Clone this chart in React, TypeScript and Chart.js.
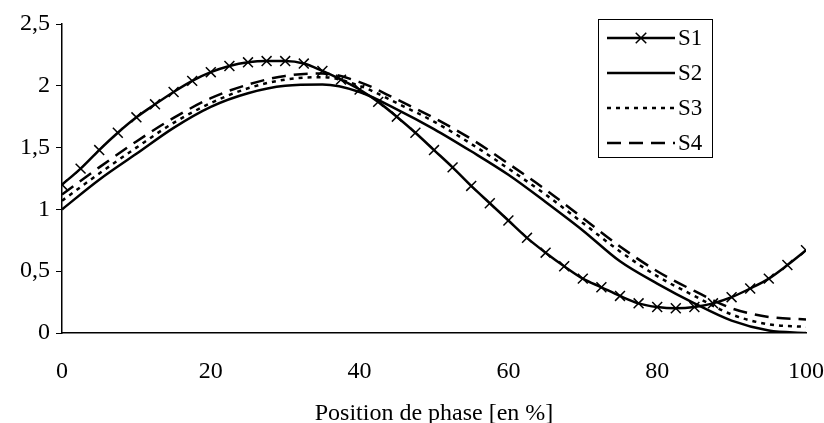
import React, { useEffect, useRef } from "react";
import { Chart, registerables } from "chart.js";

Chart.register(...registerables);

const xS1 = [0, 2.5, 5, 7.5, 10, 12.5, 15, 17.5, 20, 22.5, 25, 27.5, 30, 32.5, 35, 37.5, 40, 42.5, 45, 47.5, 50, 52.5, 55, 57.5, 60, 62.5, 65, 67.5, 70, 72.5, 75, 77.5, 80, 82.5, 85, 87.5, 90, 92.5, 95, 97.5, 100];
const s1 = [1.20, 1.33, 1.48, 1.62, 1.745, 1.85, 1.95, 2.04, 2.11, 2.16, 2.19, 2.20, 2.20, 2.18, 2.12, 2.05, 1.97, 1.87, 1.75, 1.62, 1.48, 1.34, 1.19, 1.05, 0.91, 0.77, 0.65, 0.54, 0.44, 0.37, 0.30, 0.24, 0.21, 0.20, 0.21, 0.24, 0.29, 0.36, 0.44, 0.55, 0.67];

const xS = [0, 5, 10, 15, 20, 25, 30, 35, 40, 45, 50, 55, 60, 65, 70, 75, 80, 85, 90, 95, 100];
const s2 = [1.00, 1.24, 1.45, 1.66, 1.83, 1.94, 2.00, 2.01, 1.95, 1.81, 1.65, 1.47, 1.28, 1.06, 0.83, 0.58, 0.40, 0.24, 0.10, 0.02, 0.00];
const s3 = [1.07, 1.29, 1.50, 1.70, 1.86, 1.98, 2.05, 2.07, 2.00, 1.86, 1.71, 1.53, 1.33, 1.12, 0.89, 0.66, 0.46, 0.30, 0.15, 0.07, 0.05];
const s4 = [1.12, 1.34, 1.55, 1.74, 1.90, 2.01, 2.08, 2.10, 2.03, 1.89, 1.74, 1.57, 1.37, 1.16, 0.93, 0.70, 0.50, 0.34, 0.20, 0.13, 0.11];

const seriesNames = ["S1", "S2", "S3", "S4"];
const yTickLabels = ["0", "0,5", "1", "1,5", "2", "2,5"];
const xTitle = "Position de phase [en %]";

const FONT = "'Liberation Serif', 'Times New Roman', serif";

const boxLegend = {
  id: "boxLegend",
  afterDraw(chart: any) {
    const ctx = chart.ctx;
    const bx = 598, by = 19, bw = 114, bh = 138;
    ctx.save();
    ctx.strokeStyle = "#000";
    ctx.lineWidth = 1;
    ctx.setLineDash([]);
    ctx.strokeRect(bx + 0.5, by + 0.5, bw, bh);
    chart.data.datasets.forEach((ds: any, i: number) => {
      const y = by + 19 + i * 35;
      ctx.beginPath();
      ctx.setLineDash(ds.borderDash || []);
      ctx.lineWidth = ds.borderWidth;
      ctx.strokeStyle = "#000";
      ctx.moveTo(bx + 9, y);
      ctx.lineTo(bx + 77, y);
      ctx.stroke();
      ctx.setLineDash([]);
      if (ds.pointRadius > 0) {
        const cx = bx + 43;
        const r = ds.pointRadius * 0.75;
        ctx.lineWidth = ds.pointBorderWidth;
        ctx.beginPath();
        ctx.moveTo(cx - r, y - r);
        ctx.lineTo(cx + r, y + r);
        ctx.moveTo(cx + r, y - r);
        ctx.lineTo(cx - r, y + r);
        ctx.stroke();
      }
      ctx.fillStyle = "#000";
      ctx.font = `23px ${FONT}`;
      ctx.textBaseline = "middle";
      ctx.textAlign = "left";
      ctx.fillText(ds.label, bx + 80, y + 1);
    });
    ctx.restore();
  },
};

export default function App() {
  const ref = useRef<HTMLCanvasElement | null>(null);
  useEffect(() => {
    if (!ref.current) return;
    Chart.defaults.color = "#000";
    const chart = new Chart(ref.current, {
      type: "line",
      data: {
        datasets: [
          {
            label: seriesNames[0],
            data: xS1.map((x, i) => ({ x, y: s1[i] })),
            borderColor: "#000",
            borderWidth: 2.5,
            pointStyle: "crossRot",
            pointRadius: 7,
            pointBorderWidth: 1.5,
            pointBorderColor: "#000",
            cubicInterpolationMode: "monotone",
          },
          {
            label: seriesNames[1],
            data: xS.map((x, i) => ({ x, y: s2[i] })),
            borderColor: "#000",
            borderWidth: 2.5,
            pointRadius: 0,
            cubicInterpolationMode: "monotone",
          },
          {
            label: seriesNames[2],
            data: xS.map((x, i) => ({ x, y: s3[i] })),
            borderColor: "#000",
            borderWidth: 2.5,
            borderDash: [4, 5],
            pointRadius: 0,
            cubicInterpolationMode: "monotone",
          },
          {
            label: seriesNames[3],
            data: xS.map((x, i) => ({ x, y: s4[i] })),
            borderColor: "#000",
            borderWidth: 2.5,
            borderDash: [14, 8],
            pointRadius: 0,
            cubicInterpolationMode: "monotone",
          },
        ] as any,
      },
      options: {
        responsive: false,
        animation: false,
        layout: { padding: { left: 0, right: 0, top: 24, bottom: 0 } },
        plugins: {
          legend: { display: false },
          tooltip: { enabled: false },
        },
        scales: {
          x: {
            type: "linear",
            min: 0,
            max: 100,
            ticks: {
              stepSize: 20,
              padding: 24,
              font: { family: FONT, size: 24 },
              color: "#000",
            },
            grid: { display: true, drawOnChartArea: false, drawTicks: false },
            border: { display: true, color: "#000", width: 1.5 },
            title: {
              display: true,
              text: xTitle,
              font: { family: FONT, size: 24, lineHeight: 0.8 },
              padding: { top: 0, bottom: 0 },
              color: "#000",
            },
            afterFit: (s: any) => {
              s.height = 90;
              s.paddingRight = 18;
              s.paddingLeft = 0;
            },
          },
          y: {
            min: 0,
            max: 2.5,
            ticks: {
              stepSize: 0.5,
              padding: 6,
              font: { family: FONT, size: 24 },
              color: "#000",
              callback: (_v: any, i: number) => yTickLabels[i],
            },
            grid: { display: true, drawOnChartArea: false, drawTicks: true, tickLength: 6, color: "#000" },
            border: { display: true, color: "#000", width: 1.5 },
            afterFit: (s: any) => {
              s.width = 62;
            },
          },
        },
      },
      plugins: [boxLegend],
    });
    return () => chart.destroy();
  }, []);
  return (
    <div style={{ position: "fixed", left: 0, top: 0, width: 824, height: 423, background: "#fff" }}>
      <canvas ref={ref} width={824} height={423} />
    </div>
  );
}
